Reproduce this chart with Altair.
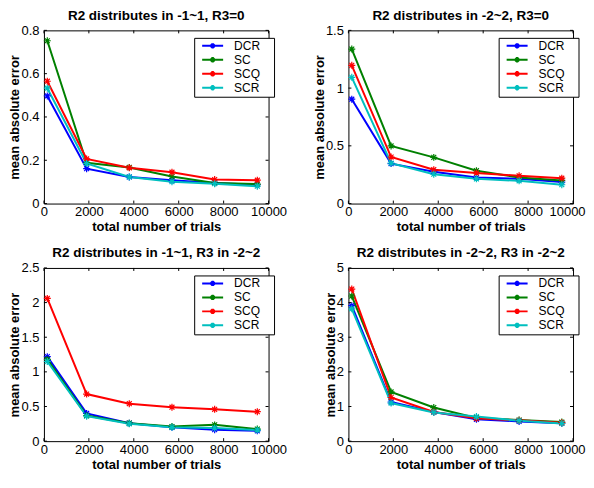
import altair as alt
import pandas as pd

x_vals = [150, 1900, 3800, 5700, 7600, 9500]
methods = ["DCR", "SC", "SCQ", "SCR"]
colors = ["#0000FF", "#008000", "#FF0000", "#00BFBF"]

titles = [
    "R2 distributes in -1~1, R3=0",
    "R2 distributes in -2~2, R3=0",
    "R2 distributes in -1~1, R3 in -2~2",
    "R2 distributes in -2~2, R3 in -2~2",
]

# panel 1
p1_dcr = [0.497, 0.161, 0.123, 0.108, 0.095, 0.087]
p1_sc = [0.752, 0.188, 0.167, 0.125, 0.095, 0.090]
p1_scq = [0.565, 0.206, 0.165, 0.145, 0.111, 0.108]
p1_scr = [0.533, 0.185, 0.123, 0.101, 0.092, 0.080]
# panel 2
p2_dcr = [0.904, 0.346, 0.276, 0.225, 0.214, 0.186]
p2_sc = [1.338, 0.499, 0.400, 0.285, 0.225, 0.200]
p2_scq = [1.197, 0.403, 0.293, 0.265, 0.240, 0.220]
p2_scr = [1.093, 0.350, 0.254, 0.214, 0.197, 0.163]
# panel 3
p3_dcr = [1.22, 0.40, 0.26, 0.20, 0.165, 0.15]
p3_sc = [1.18, 0.37, 0.26, 0.21, 0.235, 0.175]
p3_scq = [2.06, 0.68, 0.54, 0.49, 0.46, 0.425]
p3_scr = [1.15, 0.36, 0.25, 0.20, 0.19, 0.16]
# panel 4
p4_dcr = [3.91, 1.13, 0.84, 0.63, 0.57, 0.52]
p4_sc = [4.19, 1.42, 0.97, 0.67, 0.61, 0.55]
p4_scq = [4.39, 1.26, 0.84, 0.66, 0.60, 0.53]
p4_scr = [3.82, 1.10, 0.83, 0.71, 0.59, 0.51]

x_ticks = [0, 2000, 4000, 6000, 8000, 10000]
y_ticks = [
    [0, 0.2, 0.4, 0.6, 0.8],
    [0, 0.5, 1, 1.5],
    [0, 0.5, 1, 1.5, 2, 2.5],
    [0, 1, 2, 3, 4, 5],
]
y_max = [0.8, 1.5, 2.5, 5]

series = [
    [p1_dcr, p1_sc, p1_scq, p1_scr],
    [p2_dcr, p2_sc, p2_scq, p2_scr],
    [p3_dcr, p3_sc, p3_scq, p3_scr],
    [p4_dcr, p4_sc, p4_scq, p4_scr],
]

W, H = 225, 173.5
FONT = "Liberation Sans"
TL = 3  # inward tick length
ASTER = "M-1,0L1,0M0,-1L0,1M-0.7,-0.7L0.7,0.7M-0.7,0.7L0.7,-0.7"
# legend glyph: short line with an asterisk; the trailing move-to widens the box
LEG_SYM = "M0,0L7,0M2.9,-0.6L4.1,0.6M2.9,0.6L4.1,-0.6M3.5,-0.9L3.5,0.9M21.9,0"


def panel(title, ser, yticks, ymax, right_col):
    rows = []
    for m, vals in zip(methods, ser):
        for x, v in zip(x_vals, vals):
            rows.append({"x": x, "y": v, "method": m})
    df = pd.DataFrame(rows)
    xs = alt.Scale(domain=[0, 10000], nice=False, zero=False)
    ys = alt.Scale(domain=[0, ymax], nice=False, zero=False)
    last_off = -6 if right_col else 0
    xax = alt.Axis(values=x_ticks, title="total number of trials", ticks=False,
                   domain=False, grid=False, format="d", labelFont=FONT,
                   labelFontSize=13, labelColor="black", labelPadding=2,
                   labelOffset=alt.condition("datum.value == 10000",
                                             alt.value(last_off), alt.value(0)),
                   titleFont=FONT, titleFontSize=13, titleFontWeight="bold",
                   titleColor="black", titlePadding=2, labelFlush=False)
    yax = alt.Axis(values=yticks, title="mean absolute error", ticks=False,
                   domain=False, grid=False, format="~g", labelFont=FONT,
                   labelFontSize=13, labelColor="black", labelPadding=5,
                   titleFont=FONT, titleFontSize=13, titleFontWeight="bold",
                   titleColor="black", titlePadding=-1, labelFlush=False)
    X = alt.X("x:Q", scale=xs, axis=xax)
    Y = alt.Y("y:Q", scale=ys, axis=yax)
    cscale = alt.Scale(domain=methods, range=colors)
    leg = alt.Legend(orient="none", legendX=150.5, legendY=7.5, title=None,
                     strokeColor="black", fillColor="white", padding=2,
                     cornerRadius=0, symbolType=LEG_SYM, symbolSize=36,
                     symbolStrokeWidth=2, labelFont=FONT, labelFontSize=12,
                     labelColor="black", labelOffset=26, rowPadding=0)
    lines = alt.Chart(df).mark_line(strokeWidth=2).encode(
        X, Y, color=alt.Color("method:N", scale=cscale, legend=leg))
    pts = alt.Chart(df).mark_point(shape=ASTER, size=49, filled=False,
                                   strokeWidth=1.2, opacity=1).encode(
        X, Y, color=alt.Color("method:N", scale=cscale, legend=None))
    xt = pd.DataFrame({"x": x_ticks})
    yt = pd.DataFrame({"y": yticks})
    bt = alt.Chart(xt).mark_rule(color="black", strokeWidth=1).encode(
        x=X, y=alt.value(H), y2=alt.value(H - TL))
    tt = alt.Chart(xt).mark_rule(color="black", strokeWidth=1).encode(
        x=X, y=alt.value(0), y2=alt.value(TL))
    lt = alt.Chart(yt).mark_rule(color="black", strokeWidth=1).encode(
        y=Y, x=alt.value(0), x2=alt.value(TL))
    rt = alt.Chart(yt).mark_rule(color="black", strokeWidth=1).encode(
        y=Y, x=alt.value(W - TL), x2=alt.value(W))
    return alt.layer(lines, pts, bt, tt, lt, rt).properties(
        width=W, height=H,
        title=alt.TitleParams(title, font=FONT, fontSize=13.5, fontWeight="bold",
                              color="black", anchor="middle", offset=2))


panels = [panel(t, s, yt, ym, i % 2 == 1)
          for i, (t, s, yt, ym) in enumerate(zip(titles, series, y_ticks, y_max))]

chart = alt.concat(*panels, columns=2, spacing={"row": 64, "column": 80},
                   bounds="flush").resolve_scale(color="independent").configure_view(
    stroke="black", strokeWidth=1).properties(
    padding={"left": 0, "top": 0, "right": 0, "bottom": 0}, background="white")

chart.save("out.html", embed_options={"renderer": "svg", "actions": False})
